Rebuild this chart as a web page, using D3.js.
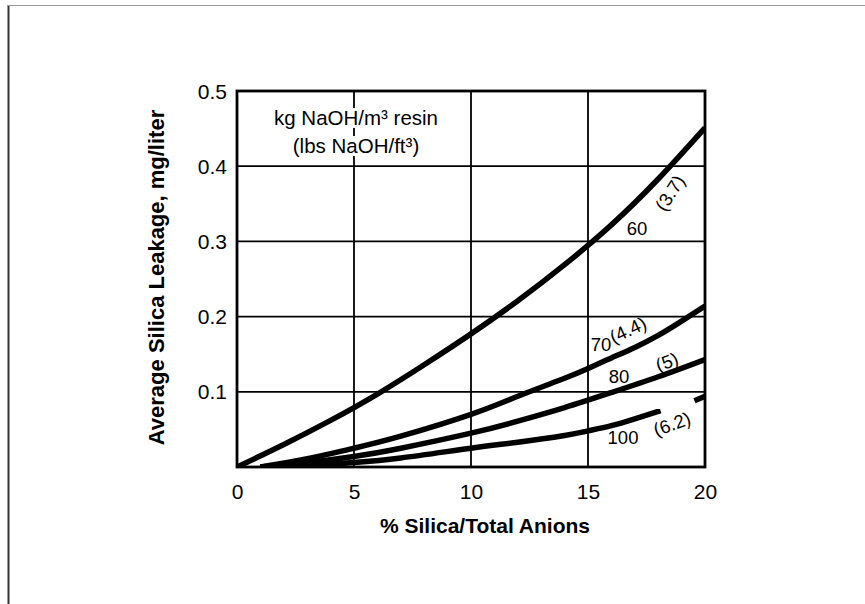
<!DOCTYPE html>
<html>
<head>
<meta charset="utf-8">
<script src="https://cdn.jsdelivr.net/npm/d3@7"></script>
<style>
  html, body { margin: 0; padding: 0; background: #fff; }
  svg { display: block; }
  text { font-family: "Liberation Sans", Arial, Helvetica, sans-serif; fill: #000; }
</style>
</head>
<body>
<svg id="chart" width="865" height="604"></svg>
<script>
// ---- data ----
const xTicks = [0, 5, 10, 15, 20];
const yTicks = [0.1, 0.2, 0.3, 0.4, 0.5];
const xGrid = [5, 10, 15];
const yGrid = [0.1, 0.2, 0.3, 0.4];

const curve60 = [[0,0],[2,0.03],[4,0.062],[6,0.097],[8,0.136],[10,0.177],[12,0.221],[14,0.269],[16,0.322],[18,0.383],[20,0.451]];
const curve70 = [[1,0],[3,0.011],[5,0.025],[7,0.041],[10,0.07],[12,0.094],[14,0.118],[15,0.131],[16,0.145],[17,0.159],[18,0.175],[19,0.194],[20,0.214]];
const curve80 = [[1,0],[3,0.006],[5,0.014],[7,0.025],[10,0.045],[12,0.061],[14,0.079],[16,0.099],[18,0.12],[20,0.143]];
const curve100a = [[1,0],[3,0.002],[5,0.006],[7,0.012],[10,0.025],[12,0.033],[14,0.042],[15,0.048],[16,0.055],[17,0.064],[18.1,0.075]];
const curve100b = [[19.55,0.088],[20,0.094]];

const curveLabels = [
  { text: "60",    x: 637, y: 228.5, rot: 0 },
  { text: "(3.7)", x: 670, y: 193,   rot: -57 },
  { text: "70",    x: 601, y: 344.5, rot: 0 },
  { text: "(4.4)", x: 628, y: 330,   rot: -25 },
  { text: "80",    x: 619, y: 376.5, rot: 0 },
  { text: "(5)",   x: 667, y: 362,   rot: -20 },
  { text: "100",   x: 623, y: 437.5, rot: 0 },
  { text: "(6.2)", x: 672, y: 424,   rot: -20 }
];
const legendLines = ["kg NaOH/m\u00B3 resin", "(lbs NaOH/ft\u00B3)"];
const xTitle = "% Silica/Total Anions";
const yTitle = "Average Silica Leakage, mg/liter";

// ---- layout ----
const svg = d3.select("#chart");
const L = 237, R = 705, T = 91, B = 467;
const x = d3.scaleLinear().domain([0, 20]).range([L, R]);
const y = d3.scaleLinear().domain([0, 0.5]).range([B, T]);

// outer page border (left & top)
svg.append("line").attr("x1", 8.5).attr("x2", 8.5).attr("y1", 5).attr("y2", 604)
  .attr("stroke", "#333").attr("stroke-width", 2);
svg.append("line").attr("x1", 8).attr("x2", 865).attr("y1", 5.5).attr("y2", 5.5)
  .attr("stroke", "#999").attr("stroke-width", 1.2);

// grid
svg.append("g").selectAll("line").data(xGrid).join("line")
  .attr("x1", d => x(d)).attr("x2", d => x(d)).attr("y1", T).attr("y2", B)
  .attr("stroke", "#000").attr("stroke-width", 1.8);
svg.append("g").selectAll("line").data(yGrid).join("line")
  .attr("x1", L).attr("x2", R).attr("y1", d => y(d)).attr("y2", d => y(d))
  .attr("stroke", "#000").attr("stroke-width", 1.8);

// legend text with white backgrounds
const legY = [125, 153];
const legG = svg.append("g");
legendLines.forEach((t, i) => {
  const tx = legG.append("text").attr("x", 356).attr("y", legY[i])
    .attr("text-anchor", "middle").attr("font-size", 20.5).text(t);
  const bb = tx.node().getBBox();
  legG.insert("rect", "text").attr("x", bb.x - 2).attr("y", bb.y + 2)
    .attr("width", bb.width + 4).attr("height", bb.height - 3).attr("fill", "#fff");
});

// curves
svg.append("clipPath").attr("id", "plotclip").append("rect")
  .attr("x", L).attr("y", T).attr("width", R - L).attr("height", B - T);
const line = d3.line().x(d => x(d[0])).y(d => y(d[1])).curve(d3.curveNatural);
const cg = svg.append("g").attr("clip-path", "url(#plotclip)");
[curve60, curve70, curve80, curve100a, curve100b].forEach(c => {
  cg.append("path").attr("d", line(c)).attr("fill", "none")
    .attr("stroke", "#000").attr("stroke-width", 5.5).attr("stroke-linecap", "butt");
});

// frame
svg.append("rect").attr("x", L).attr("y", T).attr("width", R - L).attr("height", B - T)
  .attr("fill", "none").attr("stroke", "#000").attr("stroke-width", 2.8);

// axes (labels only)
const xAxis = svg.append("g").attr("transform", `translate(0,${B})`)
  .call(d3.axisBottom(x).tickValues(xTicks).tickSize(0).tickPadding(0).tickFormat(d3.format("d")));
xAxis.select(".domain").remove();
xAxis.selectAll("text").attr("font-family", "Liberation Sans, Arial, sans-serif")
  .attr("font-size", 21).attr("fill", "#000").attr("dy", null).attr("y", 32);

const yAxis = svg.append("g").attr("transform", `translate(${L},0)`)
  .call(d3.axisLeft(y).tickValues(yTicks).tickSize(0).tickPadding(0).tickFormat(d3.format(".1f")));
yAxis.select(".domain").remove();
yAxis.selectAll("text").attr("font-family", "Liberation Sans, Arial, sans-serif")
  .attr("font-size", 21).attr("fill", "#000").attr("dy", null).attr("x", -10).attr("y", 7);

// curve labels
svg.append("g").selectAll("text").data(curveLabels).join("text")
  .attr("text-anchor", "middle").attr("dominant-baseline", "central")
  .attr("font-size", 18.5)
  .attr("transform", d => `translate(${d.x},${d.y}) rotate(${d.rot})`)
  .text(d => d.text);

// titles
svg.append("text").attr("x", 485).attr("y", 533).attr("text-anchor", "middle")
  .attr("font-size", 21).attr("font-weight", "bold").text(xTitle);
svg.append("text").attr("transform", "translate(164,277.5) rotate(-90)")
  .attr("text-anchor", "middle").attr("font-size", 22).attr("font-weight", "bold").text(yTitle);
</script>
</body>
</html>
